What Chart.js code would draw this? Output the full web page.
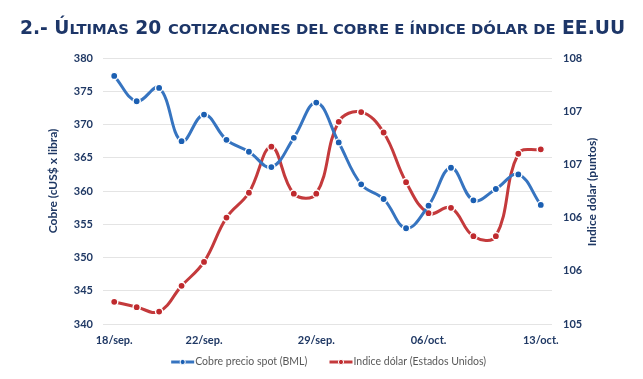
<!DOCTYPE html>
<html><head><meta charset="utf-8">
<script src="https://cdn.jsdelivr.net/npm/chart.js@4/dist/chart.umd.min.js"></script>
<style>
html,body{margin:0;padding:0;background:#fff;width:643px;height:379px;overflow:hidden}
#title{position:absolute;left:20px;top:19px;white-space:nowrap;font-family:"DejaVu Sans";font-weight:bold;color:#1d3668;font-size:19px;line-height:1}
#title .s{text-transform:uppercase;font-size:0.79em}
#wrap{position:absolute;left:0;top:0;width:643px;height:379px}
</style></head><body>
<div id="wrap"><canvas id="c" width="643" height="379" style="width:643px;height:379px"></canvas></div>
<div id="title">2.- Ú<span class="s">ltimas</span> 20 <span class="s">cotizaciones del cobre e índice dólar de</span> EE.UU</div>
<script>
const categories = ['18/sep.','19/sep.','20/sep.','21/sep.','22/sep.','25/sep.','26/sep.','27/sep.','28/sep.','29/sep.',
  '02/oct.','03/oct.','04/oct.','05/oct.','06/oct.','09/oct.','10/oct.','11/oct.','12/oct.','13/oct.'];
const shownTickLabels = ['18/sep.','22/sep.','29/sep.','06/oct.','13/oct.'];
const copper = [377.3, 373.5, 375.5, 367.5, 371.5, 367.7, 365.9, 363.6, 368.0, 373.3,
  367.3, 361.0, 358.8, 354.4, 357.8, 363.5, 358.6, 360.3, 362.5, 357.9];
const dollarIndex = [105.25, 105.19, 105.14, 105.43, 105.70, 106.20, 106.48, 107.00, 106.47, 106.47,
  107.28, 107.39, 107.16, 106.60, 106.25, 106.31, 105.99, 105.99, 106.92, 106.97];
const seriesNames = ['Cobre precio spot (BML)', 'Indice dólar (Estados Unidos)'];
const leftAxisTitle = 'Cobre (cUS$ x libra)';
const rightAxisTitle = 'Indice dólar (puntos)';

// title fit
(function(){
  const t = document.getElementById('title');
  const target = 605;
  const w = t.getBoundingClientRect().width;
  t.style.fontSize = (19 * target / w) + 'px';
})();

const navy = '#1f3864';
const blue = '#3674c0', bluePt = '#1b5fb2';
const red = '#c43a3c', redPt = '#bf2a2e';

const extras = {
  id: 'extras',
  afterDraw(chart) {
    const ctx = chart.ctx;
    ctx.save();
    ctx.fillStyle = navy;
    ctx.font = 'bold 12px Lato';
    ctx.textAlign = 'center';
    ctx.textBaseline = 'middle';
    ctx.save(); ctx.translate(53, 181); ctx.rotate(-Math.PI/2); ctx.fillText(leftAxisTitle, 0, 0); ctx.restore();
    ctx.save(); ctx.translate(592, 192); ctx.rotate(-Math.PI/2); ctx.fillText(rightAxisTitle, 0, 0); ctx.restore();
    const lg = chart.legend;
    if (lg && lg.legendHitBoxes) {
      const lo = lg.options.labels;
      lg.legendHitBoxes.forEach((hb, i) => {
        const textX = hb.left + lo.boxWidth + lo.font.size / 2;
        const x0 = textX - 24, x1 = textX - 1;
        const cy = hb.top + hb.height / 2;
        ctx.beginPath();
        ctx.moveTo(x0, cy); ctx.lineTo(x1, cy);
        ctx.lineWidth = 3;
        ctx.strokeStyle = i === 0 ? blue : red;
        ctx.stroke();
        ctx.beginPath();
        ctx.arc((x0 + x1) / 2, cy, 2.6, 0, Math.PI * 2);
        ctx.fillStyle = i === 0 ? bluePt : redPt;
        ctx.fill();
        ctx.lineWidth = 1;
        ctx.strokeStyle = '#fff';
        ctx.stroke();
      });
    }
    ctx.restore();
  }
};

new Chart(document.getElementById('c'), {
  type: 'line',
  data: {
    labels: categories,
    datasets: [
      { label: seriesNames[0], data: copper, yAxisID: 'y', borderColor: blue, backgroundColor: blue,
        borderWidth: 3, tension: 0.4, pointRadius: 3.6, pointBackgroundColor: bluePt,
        pointBorderColor: '#ffffff', pointBorderWidth: 1.4 },
      { label: seriesNames[1], data: dollarIndex, yAxisID: 'y1', borderColor: red, backgroundColor: red,
        borderWidth: 3, tension: 0.4, pointRadius: 3.6, pointBackgroundColor: redPt,
        pointBorderColor: '#ffffff', pointBorderWidth: 1.4 }
    ]
  },
  options: {
    responsive: false,
    animation: false,
    devicePixelRatio: 1,
    layout: { padding: { top: 58, left: 0, right: 0, bottom: 1.75 } },
    plugins: {
      title: { display: false },
      tooltip: { enabled: false },
      legend: {
        position: 'bottom',
        labels: {
          boxWidth: 33, boxHeight: 3, padding: 8,
          color: '#595959', font: { family: 'Lato', size: 10.5 },
          generateLabels(chart) {
            return Chart.defaults.plugins.legend.labels.generateLabels(chart).map(l =>
              Object.assign(l, { fillStyle: 'rgba(0,0,0,0)', strokeStyle: 'rgba(0,0,0,0)', lineWidth: 0 }));
          }
        }
      }
    },
    scales: {
      x: {
        type: 'category', offset: true,
        grid: { display: false, drawTicks: false }, border: { display: false },
        ticks: {
          autoSkip: false, maxRotation: 0, padding: 10, color: navy,
          font: { family: 'Lato', size: 11, weight: 'bold' },
          callback(v) { const l = this.getLabelForValue(v); return shownTickLabels.includes(l) ? l : ''; }
        },
        afterFit(s) { s.height = 24.75; }
      },
      y: {
        position: 'left', min: 340, max: 380,
        grid: { color: '#e4e4e4', lineWidth: 1, drawTicks: false }, border: { display: false },
        ticks: { stepSize: 5, padding: 10, color: navy, font: { family: 'Lato', size: 11, weight: 'bold' } },
        afterFit(s) { s.width = 103; }
      },
      y1: {
        position: 'right', min: 105, max: 108,
        grid: { display: false, drawTicks: false }, border: { display: false },
        ticks: { stepSize: 0.6, padding: 11, color: navy, font: { family: 'Lato', size: 11, weight: 'bold' },
          callback(v) { return Math.round(v); } },
        afterFit(s) { s.width = 91; }
      }
    }
  },
  plugins: [extras]
});
</script>
</body></html>
